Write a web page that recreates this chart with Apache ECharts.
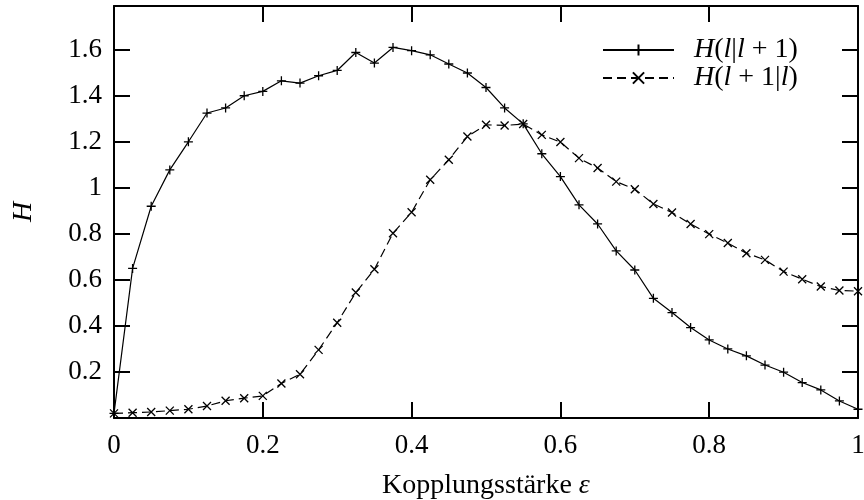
<!DOCTYPE html>
<html>
<head>
<meta charset="utf-8">
<script src="https://cdn.jsdelivr.net/npm/echarts@6/dist/echarts.min.js"></script>
<style>
  html, body { margin: 0; padding: 0; background: #fff; }
  #chart { width: 864px; height: 500px; }
</style>
</head>
<body>
<div id="chart"></div>
<script>
// Coupling strength values (epsilon), step 0.025
const epsilon = [0, 0.025, 0.05, 0.075, 0.1, 0.125, 0.15, 0.175, 0.2, 0.225, 0.25, 0.275, 0.3, 0.325,
  0.35, 0.375, 0.4, 0.425, 0.45, 0.475, 0.5, 0.525, 0.55, 0.575, 0.6, 0.625, 0.65, 0.675, 0.7,
  0.725, 0.75, 0.775, 0.8, 0.825, 0.85, 0.875, 0.9, 0.925, 0.95, 0.975, 1.0];

// H(l|l+1)
const hForward = [0.02, 0.65, 0.92, 1.078, 1.20, 1.325, 1.347, 1.40, 1.419, 1.465, 1.455, 1.487, 1.51, 1.588,
  1.542, 1.61, 1.596, 1.578, 1.538, 1.499, 1.436, 1.347, 1.278, 1.148, 1.049, 0.926, 0.843, 0.726, 0.643,
  0.52, 0.458, 0.393, 0.339, 0.30, 0.27, 0.23, 0.199, 0.154, 0.122, 0.074, 0.038];

// H(l+1|l)
const hBackward = [0.02, 0.023, 0.026, 0.032, 0.038, 0.052, 0.075, 0.086, 0.096, 0.15, 0.19, 0.296, 0.414, 0.545,
  0.646, 0.803, 0.894, 1.035, 1.122, 1.223, 1.274, 1.271, 1.277, 1.23, 1.199, 1.129, 1.086, 1.027, 0.994,
  0.93, 0.893, 0.843, 0.799, 0.76, 0.716, 0.687, 0.636, 0.603, 0.571, 0.554, 0.551];

const seriesNames = ['H(l|l+1)', 'H(l+1|l)'];
const xTitle = 'Kopplungsstärke ';
const xTitleSymbol = 'ε';
const yTitle = 'H';

const FONT = '"Liberation Serif", "DejaVu Serif", serif';
const plusSymbol = 'path://M5,0L5,10M0,5L10,5';
const crossSymbol = 'path://M0,0L10,10M0,10L10,0';

const chart = echarts.init(document.getElementById('chart'), null, { renderer: 'canvas' });

const axisLine = { show: true, onZero: false, lineStyle: { color: '#000', width: 2 } };
const axisTick = { show: true, inside: true, length: 16, lineStyle: { color: '#000', width: 2 } };

function yLabel(v) {
  if (v <= 0 || v > 1.7) return '';
  return String(Math.round(v * 10) / 10);
}

// Legend text: italic variables, upright operators, math spacing around "+"
const legendRich = {
  i: { fontFamily: FONT, fontStyle: 'italic', fontSize: 28, color: '#000' },
  r: { fontFamily: FONT, fontSize: 28, color: '#000' }
};
const SP = '\u2005';
function legendText(name) {
  if (name === seriesNames[0]) return '{i|H}{r|(}{i|l}{r||}{i|l}{r|' + SP + '+' + SP + '1)}';
  return '{i|H}{r|(}{i|l}{r|' + SP + '+' + SP + '1|}{i|l}{r|)}';
}

chart.setOption({
  animation: false,
  backgroundColor: '#fff',
  grid: { left: 114, right: 6, top: 6, bottom: 82, containLabel: false, outerBoundsMode: 'none' },
  legend: {
    orient: 'vertical',
    left: 602,
    top: 36,
    padding: 0,
    itemGap: 0,
    itemWidth: 71,
    itemHeight: 14,
    data: seriesNames,
    formatter: legendText,
    textStyle: { fontFamily: FONT, fontSize: 28, lineHeight: 27, color: '#000', padding: [0, 0, 0, 15], rich: legendRich }
  },
  xAxis: [
    {
      type: 'value', min: 0, max: 1, interval: 0.2, position: 'bottom',
      name: '{r|' + xTitle + '}{i|' + xTitleSymbol + '}', nameLocation: 'middle', nameGap: 54,
      nameTextStyle: {
        fontFamily: FONT, fontSize: 28, color: '#000',
        rich: {
          r: { fontFamily: FONT, fontSize: 28, color: '#000' },
          i: { fontFamily: FONT, fontSize: 28, fontStyle: 'italic', color: '#000' }
        }
      },
      axisLine, axisTick, splitLine: { show: false },
      axisLabel: { margin: 14, fontFamily: FONT, fontSize: 27, color: '#000' }
    },
    {
      type: 'value', min: 0, max: 1, interval: 0.2, position: 'top',
      axisLine, axisTick, splitLine: { show: false }, axisLabel: { show: false }
    }
  ],
  yAxis: [
    {
      type: 'value', min: 0, max: 1.79, interval: 0.2, position: 'left',
      name: yTitle, nameLocation: 'middle', nameGap: 76, nameRotate: 90,
      nameTextStyle: { fontFamily: FONT, fontStyle: 'italic', fontSize: 28, color: '#000' },
      axisLine, axisTick, splitLine: { show: false },
      axisLabel: { margin: 12, fontFamily: FONT, fontSize: 27, color: '#000', formatter: yLabel }
    },
    {
      type: 'value', min: 0, max: 1.79, interval: 0.2, position: 'right',
      axisLine, axisTick, splitLine: { show: false }, axisLabel: { show: false }
    }
  ],
  series: [
    {
      name: seriesNames[0],
      type: 'line',
      data: epsilon.map((e, k) => [e, hForward[k]]),
      symbol: plusSymbol,
      symbolSize: 9,
      showAllSymbol: true,
      lineStyle: { color: '#000', width: 1.2, type: 'solid' },
      itemStyle: { color: '#000', borderColor: '#000', borderWidth: 1.3 },
      z: 3
    },
    {
      name: seriesNames[1],
      type: 'line',
      data: epsilon.map((e, k) => [e, hBackward[k]]),
      symbol: crossSymbol,
      symbolSize: 8,
      showAllSymbol: true,
      lineStyle: { color: '#000', width: 1.2, type: [9, 5] },
      itemStyle: { color: '#000', borderColor: '#000', borderWidth: 1.3 },
      z: 3
    }
  ]
});
</script>
</body>
</html>
